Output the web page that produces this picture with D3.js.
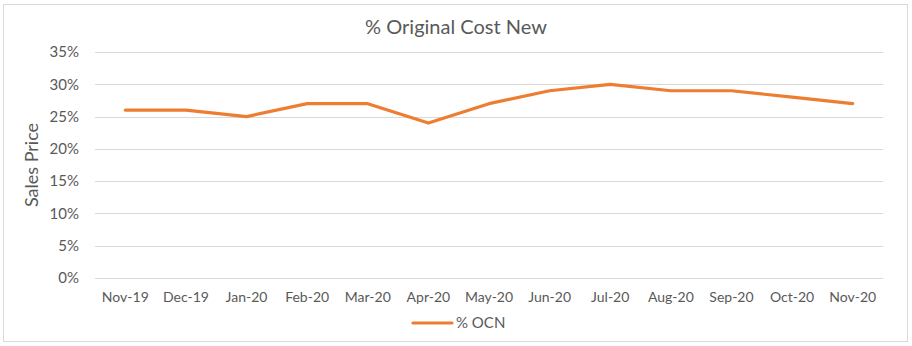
<!DOCTYPE html>
<html><head><meta charset="utf-8">
<script src="https://cdn.jsdelivr.net/npm/d3@7"></script>
<style>body{margin:0;background:#fff;}svg{display:block;font-family:Lato,"Open Sans",sans-serif;}</style>
</head><body>
<svg id="c" width="912" height="346"></svg>
<script>
const categories = ["Nov-19","Dec-19","Jan-20","Feb-20","Mar-20","Apr-20","May-20","Jun-20","Jul-20","Aug-20","Sep-20","Oct-20","Nov-20"];
const values = [0.26,0.26,0.25,0.27,0.27,0.24,0.27,0.29,0.30,0.29,0.29,0.28,0.27];
const yTicks = [0,0.05,0.10,0.15,0.20,0.25,0.30,0.35];
const seriesName = "% OCN";
const title = "% Original Cost New";
const yLabel = "Sales Price";

const svg = d3.select("#c");
const W = 912, H = 346;
const m = {l:95, r:29, t:52, b:68};
svg.append("rect").attr("x",3.5).attr("y",4.5).attr("width",904).attr("height",337)
  .attr("fill","#fff").attr("stroke","#d9d9d9").attr("stroke-width",1);

const x = d3.scaleBand().domain(categories).range([m.l, W-m.r]);
const y = d3.scaleLinear().domain([0,0.35]).range([H-m.b, m.t]);

const grid = svg.append("g");
grid.selectAll("line").data(yTicks).join("line")
  .attr("x1",m.l).attr("x2",W-m.r)
  .attr("y1",d=>Math.round(y(d))+0.5).attr("y2",d=>Math.round(y(d))+0.5)
  .attr("stroke","#d9d9d9").attr("stroke-width",1);

const yAxis = svg.append("g").attr("transform",`translate(${m.l},0)`)
  .call(d3.axisLeft(y).tickValues(yTicks).tickFormat(d3.format(".0%")).tickSize(0).tickPadding(16));
yAxis.select(".domain").remove();
yAxis.selectAll("text").attr("fill","#595959").style("font-size","15px").style("font-family","Lato, sans-serif");

const xAxis = svg.append("g").attr("transform",`translate(0,${H-m.b})`)
  .call(d3.axisBottom(x).tickSize(0).tickPadding(14));
xAxis.select(".domain").remove();
xAxis.selectAll("text").attr("fill","#595959").style("font-size","14px").style("font-family","Lato, sans-serif");

const line = d3.line().x((d,i)=>x(categories[i])+x.bandwidth()/2).y(d=>y(d));
svg.append("path").datum(values).attr("d",line).attr("fill","none")
  .attr("stroke","#ED7D31").attr("stroke-width",3.2).attr("stroke-linejoin","round").attr("stroke-linecap","round");

svg.append("text").attr("x",456).attr("y",34).attr("text-anchor","middle")
  .attr("fill","#595959").style("font-size","20px").text(title);

svg.append("text").attr("transform",`translate(38,${(m.t+H-m.b)/2}) rotate(-90)`)
  .attr("text-anchor","middle").attr("fill","#595959").style("font-size","18px").text(yLabel);

const lg = svg.append("g");
lg.append("line").attr("x1",413).attr("x2",452).attr("y1",323).attr("y2",323)
  .attr("stroke","#ED7D31").attr("stroke-width",3.2).attr("stroke-linecap","round");
lg.append("text").attr("x",456).attr("y",328).attr("fill","#595959").style("font-size","15px").text(seriesName);
</script>
</body></html>
